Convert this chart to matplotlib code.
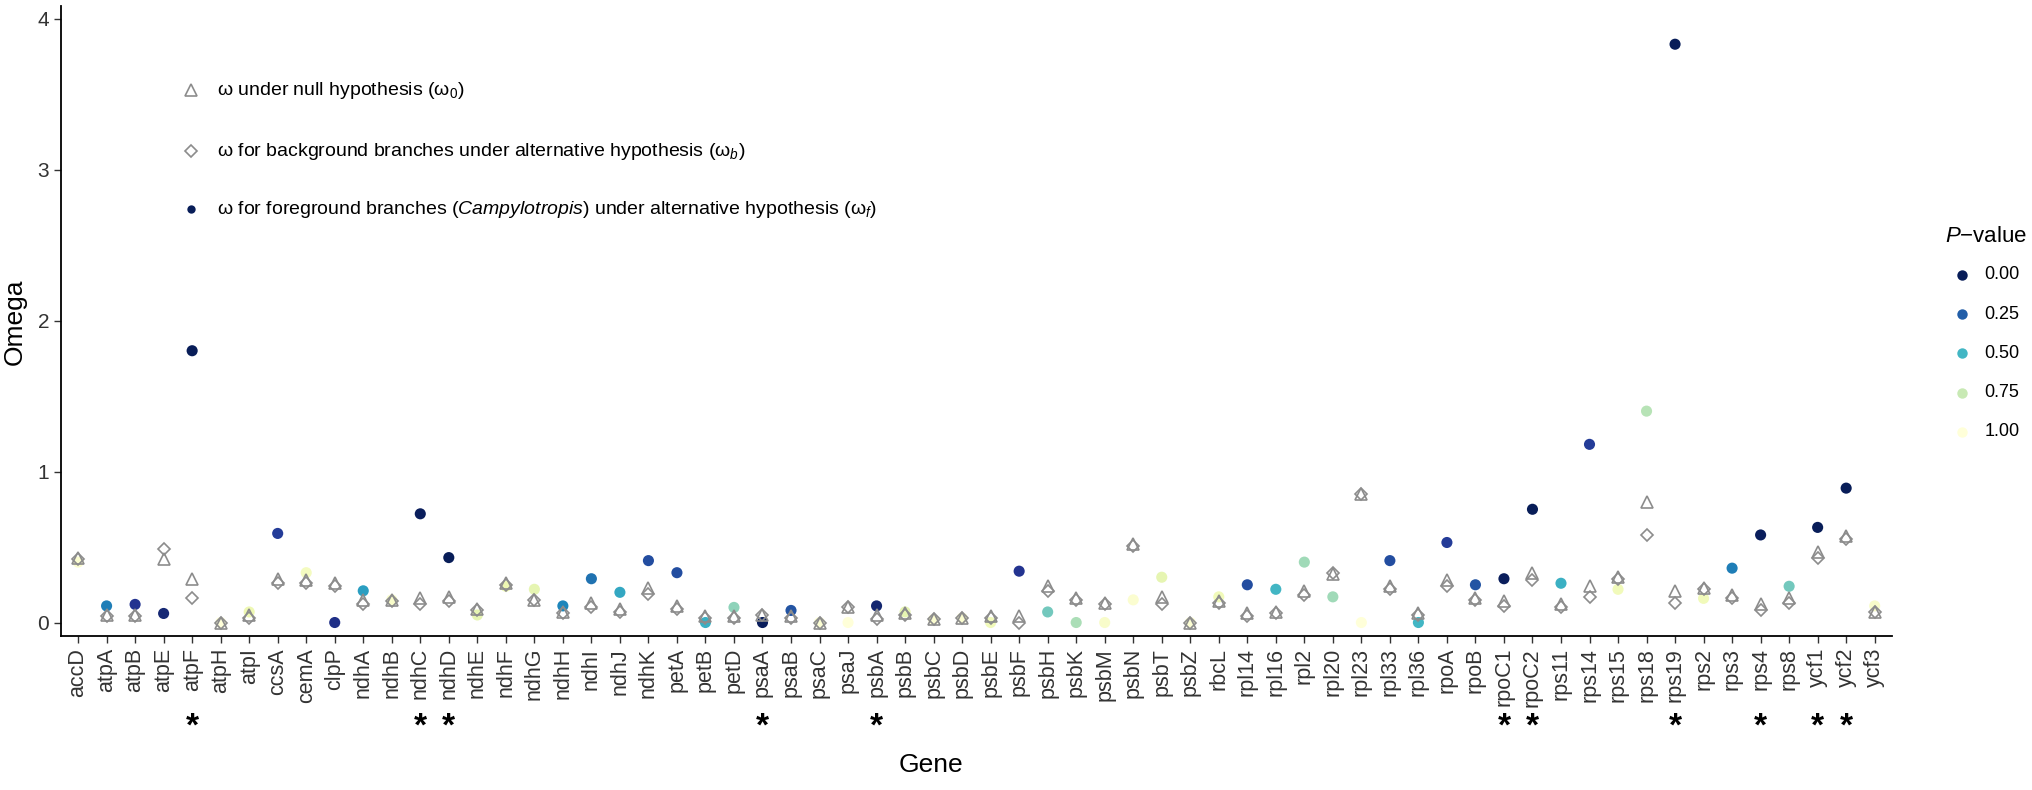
import numpy as np
import matplotlib.pyplot as plt
from matplotlib.lines import Line2D

plt.rcParams['font.family'] = ['Liberation Sans', 'DejaVu Sans']
plt.rcParams['mathtext.fontset'] = 'custom'
plt.rcParams['mathtext.rm'] = 'Liberation Sans'
plt.rcParams['mathtext.it'] = 'Liberation Sans:italic'

# Data
genes = ['accD', 'atpA', 'atpB', 'atpE', 'atpF', 'atpH', 'atpI', 'ccsA', 'cemA', 'clpP',
         'ndhA', 'ndhB', 'ndhC', 'ndhD', 'ndhE', 'ndhF', 'ndhG', 'ndhH', 'ndhI', 'ndhJ',
         'ndhK', 'petA', 'petB', 'petD', 'psaA', 'psaB', 'psaC', 'psaJ', 'psbA', 'psbB',
         'psbC', 'psbD', 'psbE', 'psbF', 'psbH', 'psbK', 'psbM', 'psbN', 'psbT', 'psbZ',
         'rbcL', 'rpl14', 'rpl16', 'rpl2', 'rpl20', 'rpl23', 'rpl33', 'rpl36', 'rpoA', 'rpoB',
         'rpoC1', 'rpoC2', 'rps11', 'rps14', 'rps15', 'rps18', 'rps19', 'rps2', 'rps3', 'rps4',
         'rps8', 'ycf1', 'ycf2', 'ycf3']

omega0 = [0.43, 0.05, 0.05, 0.42, 0.29, 0.00, 0.05, 0.29, 0.28, 0.26,
          0.15, 0.15, 0.16, 0.17, 0.09, 0.26, 0.15, 0.07, 0.13, 0.09,
          0.23, 0.11, 0.04, 0.04, 0.05, 0.04, 0.00, 0.10, 0.05, 0.06,
          0.02, 0.03, 0.04, 0.04, 0.24, 0.16, 0.13, 0.52, 0.17, 0.00,
          0.14, 0.06, 0.07, 0.21, 0.32, 0.85, 0.24, 0.06, 0.28, 0.16,
          0.14, 0.33, 0.12, 0.24, 0.30, 0.80, 0.21, 0.23, 0.18, 0.12,
          0.16, 0.47, 0.57, 0.07]

omegab = [0.42, 0.04, 0.04, 0.49, 0.16, 0.00, 0.03, 0.26, 0.26, 0.24,
          0.12, 0.14, 0.12, 0.14, 0.08, 0.25, 0.15, 0.06, 0.10, 0.07,
          0.19, 0.09, 0.03, 0.03, 0.05, 0.03, 0.00, 0.10, 0.02, 0.05,
          0.02, 0.03, 0.03, 0.00, 0.21, 0.15, 0.12, 0.51, 0.12, 0.00,
          0.13, 0.04, 0.06, 0.18, 0.33, 0.85, 0.22, 0.05, 0.24, 0.15,
          0.11, 0.28, 0.10, 0.17, 0.29, 0.58, 0.13, 0.22, 0.16, 0.08,
          0.13, 0.43, 0.55, 0.07]

omegaf = [0.40, 0.11, 0.12, 0.06, 1.80, 0.00, 0.07, 0.59, 0.33, 0.00,
          0.21, 0.15, 0.72, 0.43, 0.05, 0.24, 0.22, 0.11, 0.29, 0.20,
          0.41, 0.33, 0.00, 0.10, 0.00, 0.08, 0.00, 0.00, 0.11, 0.07,
          0.02, 0.03, 0.00, 0.34, 0.07, 0.00, 0.00, 0.15, 0.30, 0.00,
          0.17, 0.25, 0.22, 0.40, 0.17, 0.00, 0.41, 0.00, 0.53, 0.25,
          0.29, 0.75, 0.26, 1.18, 0.22, 1.40, 3.83, 0.16, 0.36, 0.58,
          0.24, 0.63, 0.89, 0.11]

pvalue = [0.97, 0.33, 0.12, 0.06, 0.00, 1.00, 0.88, 0.15, 0.92, 0.10,
          0.42, 0.95, 0.01, 0.00, 0.85, 0.88, 0.85, 0.35, 0.30, 0.45,
          0.20, 0.20, 0.48, 0.65, 0.01, 0.22, 0.98, 1.00, 0.05, 0.85,
          0.97, 0.97, 0.90, 0.12, 0.60, 0.70, 0.95, 0.97, 0.85, 0.98,
          0.90, 0.20, 0.50, 0.68, 0.68, 1.00, 0.20, 0.50, 0.15, 0.22,
          0.01, 0.00, 0.48, 0.15, 0.90, 0.72, 0.00, 0.90, 0.33, 0.01,
          0.60, 0.00, 0.00, 0.95]

sig_genes = ['atpF', 'ndhC', 'ndhD', 'psaA', 'psbA', 'rpoC1', 'rpoC2', 'rps19', 'rps4', 'ycf1', 'ycf2']
legend_p = [0.00, 0.25, 0.50, 0.75, 1.00]

cmap = plt.get_cmap('YlGnBu_r')
grey = '#8c8c8c'
x = np.arange(len(genes))

fig = plt.figure(figsize=(20.32, 7.9), dpi=100)
ax = fig.add_axes([0.030, 0.1948, 0.901, 0.797])

ax.scatter(x, omegaf, c=pvalue, cmap=cmap, vmin=0, vmax=1, s=64, edgecolors='none', zorder=2)
ax.plot(x, omega0, linestyle='none', marker='^', markersize=9, markerfacecolor='none',
        markeredgecolor=grey, markeredgewidth=1.2, zorder=3)
ax.plot(x, omegab, linestyle='none', marker='D', markersize=6.3, markerfacecolor='none',
        markeredgecolor=grey, markeredgewidth=1.2, zorder=3)

ax.set_xlim(-0.6, len(genes) - 0.4)
ax.set_ylim(-0.09, 4.08)
ax.set_xticks(x)
ax.set_xticklabels(genes, rotation=90, fontsize=15.5, color='#333333')
ax.set_yticks([0, 1, 2, 3, 4])
ax.tick_params(axis='y', labelsize=15, colors='#333333', length=5, width=1)
ax.tick_params(axis='x', length=5, width=1, color='#333333')
for s in ['top', 'right']:
    ax.spines[s].set_visible(False)
for s in ['left', 'bottom']:
    ax.spines[s].set_linewidth(1.3)

ax.set_xlabel('Gene', fontsize=19)
ax.xaxis.set_label_coords(0.475, -0.185)
ax.set_ylabel('Omega', fontsize=19, labelpad=8)

# significance stars under gene names
for g in sig_genes:
    ax.text(genes.index(g), -0.144, '*', transform=ax.get_xaxis_transform(),
            ha='center', va='center', fontsize=24, fontweight='bold')

# symbol legend inside the plot
leg_x, txt_x = 0.071, 0.085
entries = [
    ('^', dict(markersize=9, markerfacecolor='none', markeredgecolor=grey, markeredgewidth=1.2),
     r'ω under null hypothesis (ω$_0$)', 0.867),
    ('D', dict(markersize=6.3, markerfacecolor='none', markeredgecolor=grey, markeredgewidth=1.2),
     r'ω for background branches under alternative hypothesis (ω$_b$)', 0.770),
    ('o', dict(markersize=6, markerfacecolor=cmap(0.0), markeredgecolor='none'),
     r'ω for foreground branches ($\it{Campylotropis}$) under alternative hypothesis (ω$_f$)', 0.678),
]
for mk, kw, label, yy in entries:
    ax.plot([leg_x], [yy], marker=mk, linestyle='none', transform=ax.transAxes, clip_on=False, **kw)
    ax.text(txt_x, yy, label, transform=ax.transAxes, va='center', ha='left', fontsize=14)

# P-value legend on the right
fig.text(0.957, 0.700, r'$\it{P}$−value', fontsize=16, ha='left', va='center')
for i, p in enumerate(legend_p):
    yy = 0.652 - i * 0.0497
    fig.add_artist(Line2D([0.9655], [yy], marker='o', markersize=7.5, linestyle='none',
                          markerfacecolor=cmap(p), markeredgecolor='none', transform=fig.transFigure))
    fig.text(0.9765, yy, f'{p:.2f}', fontsize=13, ha='left', va='center')

fig.savefig('out.png', dpi=100)
